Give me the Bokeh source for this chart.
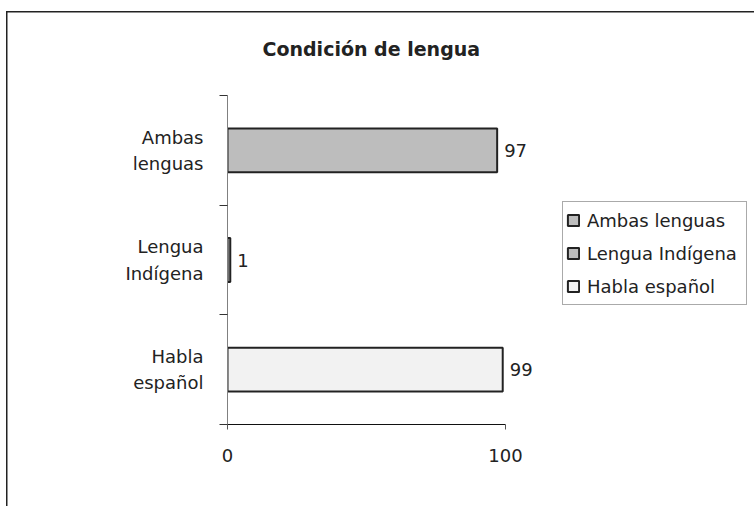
from bokeh.plotting import figure
from bokeh.models import (ColumnDataSource, Range1d, FixedTicker, LabelSet,
                          Legend, LegendItem, LinearAxis)
from bokeh.core.properties import value
from bokeh.embed import file_html
from bokeh.resources import INLINE

# ---- data ----
title_text = "Condición de lengua"
categories = ["Habla español", "Lengua Indígena", "Ambas lenguas"]
category_lines = [["Habla", "español"], ["Lengua", "Indígena"], ["Ambas", "lenguas"]]
values = [99, 1, 97]
fill_colors = ["#F2F2F2", "#BDBDBD", "#BDBDBD"]
x_ticks = [0, 100]
x_axis_max = 100
legend_order = ["Ambas lenguas", "Lengua Indígena", "Habla español"]

FONT = "DejaVu Sans"
W, H = 754, 506
L, T, B = 227, 94, 82
PX_PER_100 = 278          # pixel length of the 0..100 axis
frame_w = W - L
x_end = x_axis_max * frame_w / PX_PER_100   # frame extends right to hold labels/legend

p = figure(width=W, height=H, output_backend="svg", toolbar_location=None,
           x_range=Range1d(0, x_end), y_range=Range1d(0, len(categories)),
           min_border_left=L, min_border_right=0, min_border_top=T, min_border_bottom=B)
p.background_fill_color = None
p.border_fill_color = None
p.outline_line_color = None
p.grid.visible = False
p.styles = {
    "background-image": "linear-gradient(#222,#222), linear-gradient(#222,#222)",
    "background-size": "1.5px 100%, 100% 1.5px",
    "background-position": "6px 11px, 6px 11px",
    "background-repeat": "no-repeat",
    "background-color": "white",
}

# title
p.title.text = title_text
p.title.align = "left"
p.title.offset = 35
p.title.standoff = 71
p.title.text_font = FONT
p.title.text_font_size = "19px"
p.title.text_font_style = "bold"
p.title.text_color = "#222222"

ypos = [i + 0.5 for i in range(len(categories))]
renderers = {}
for i, cat in enumerate(categories):
    src = ColumnDataSource(dict(y=[ypos[i]], right=[values[i]]))
    r = p.hbar(y="y", left=0, right="right", height=0.4, source=src,
               fill_color=fill_colors[i], line_color="#222222", line_width=2)
    renderers[cat] = r

# value labels
lab_src = ColumnDataSource(dict(x=values, y=ypos, t=[str(v) for v in values]))
p.add_layout(LabelSet(x="x", y="y", text="t", source=lab_src, x_offset=7,
                      text_align="left", text_baseline="middle",
                      text_font=value(FONT), text_font_size="18px", text_color="#222222"))

# x axis (line only over 0..100)
xa = p.xaxis[0]
xa.ticker = FixedTicker(ticks=x_ticks)
xa.bounds = (0, x_axis_max)
xa.axis_line_color = "#111111"
xa.axis_line_width = 1.2
xa.major_tick_line_color = "#555555"
xa.major_tick_out = 5
xa.major_tick_in = 0
xa.minor_tick_line_color = None
xa.major_label_text_font = FONT
xa.major_label_text_font_size = "18px"
xa.major_label_text_color = "#222222"
xa.major_label_standoff = 19

# y axis: ticks at category boundaries, no labels
n = len(categories)
ya = p.yaxis[0]
ya.ticker = FixedTicker(ticks=list(range(n + 1)))
ya.axis_line_color = "#808080"
ya.major_tick_line_color = "#333333"
ya.major_tick_out = 8
ya.major_tick_in = 0
ya.minor_tick_line_color = None
ya.major_label_overrides = {k: "" for k in range(n + 1)}
ya.major_label_standoff = 0

# category labels: a second, line-less axis with two label lines per category
line_off = 0.12
lab_ticks, lab_over = [], {}
for i, lines in enumerate(category_lines):
    t1 = round(ypos[i] + line_off, 4)
    t2 = round(ypos[i] - line_off, 4)
    lab_ticks += [t1, t2]
    lab_over[t1] = lines[0]
    lab_over[t2] = lines[1]
cat_axis = LinearAxis(ticker=FixedTicker(ticks=lab_ticks), major_label_overrides=lab_over,
                      axis_line_color=None, major_tick_line_color=None,
                      minor_tick_line_color=None, major_label_standoff=10,
                      major_label_text_font=FONT, major_label_text_font_size="18px",
                      major_label_text_color="#222222")
p.add_layout(cat_axis, "left")

# legend
items = [LegendItem(label=name, renderers=[renderers[name]]) for name in legend_order]
leg = Legend(items=items, location=(335, 119), orientation="vertical",
             padding=3, spacing=3, margin=0, glyph_width=14, glyph_height=14,
             label_standoff=7, label_width=156, label_height=30,
             label_text_font=FONT, label_text_font_size="18px", label_text_color="#222222",
             border_line_color="#555555", border_line_width=1,
             background_fill_color="white", background_fill_alpha=1)
p.add_layout(leg, "center")

open("out.html", "w").write(file_html(p, INLINE))
